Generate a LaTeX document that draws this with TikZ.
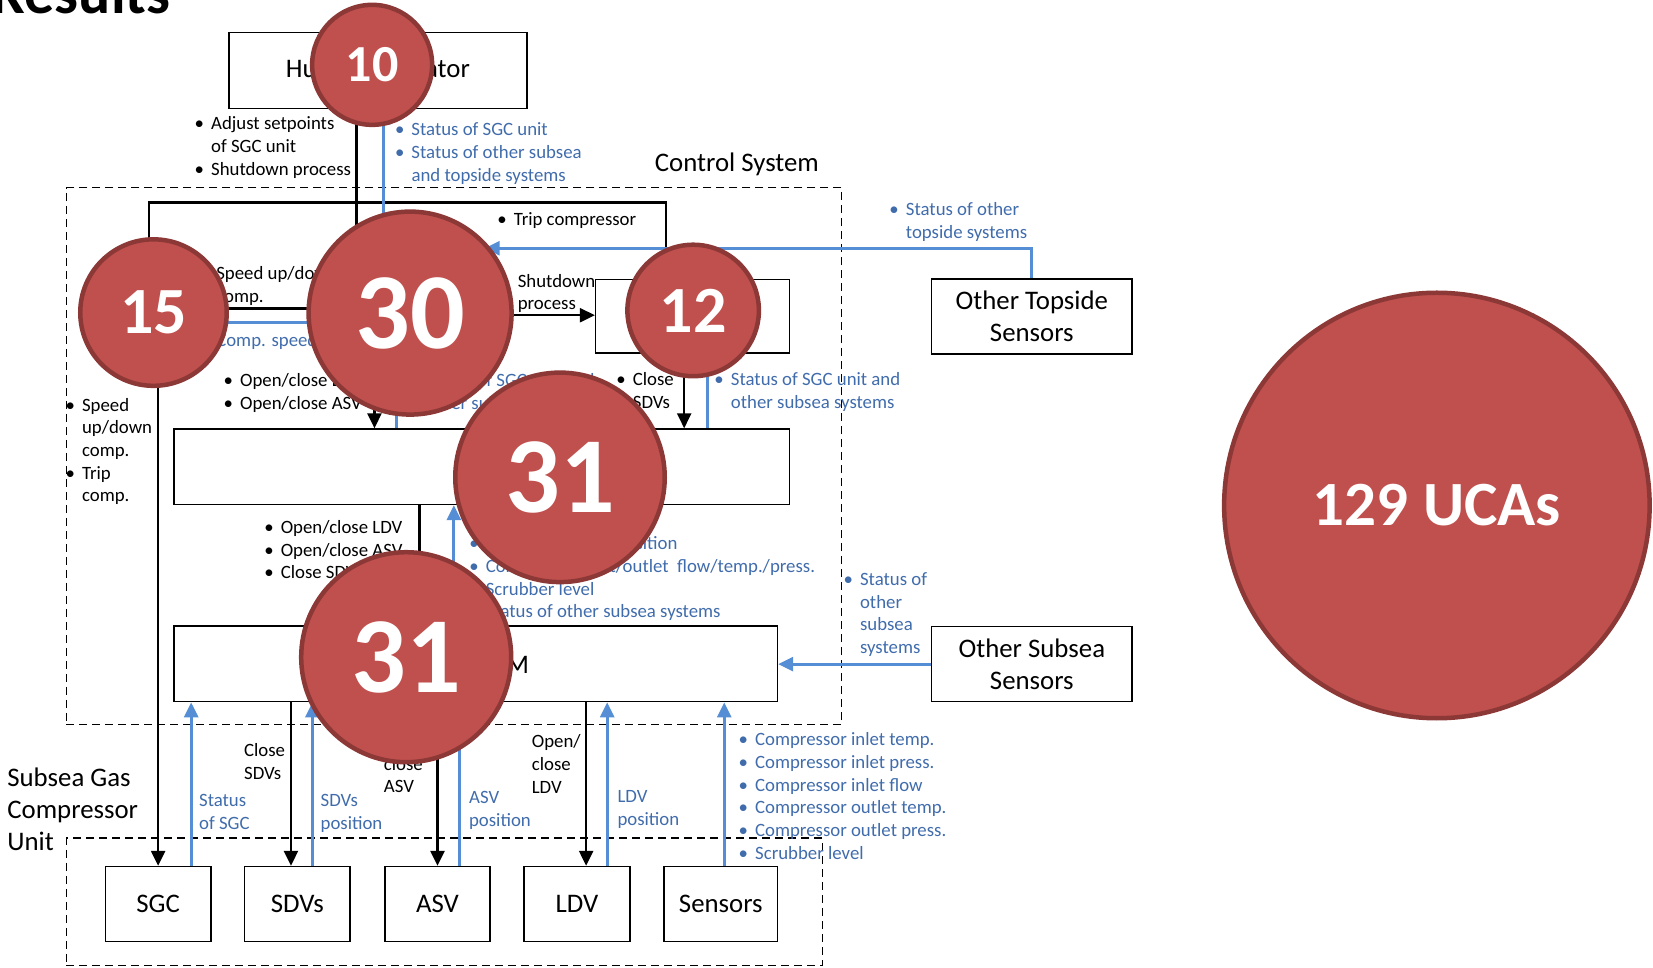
\documentclass[tikz,border=0pt]{standalone}
\usepackage{fontspec}
\setmainfont{Carlito}
\usetikzlibrary{arrows.meta,fit}

\definecolor{ucafill}{RGB}{192,80,77}
\definecolor{ucaedge}{RGB}{140,56,54}
\definecolor{fbline}{RGB}{85,142,213}
\definecolor{fbtext}{RGB}{64,108,172}

% bullet lists and line struts
\newcommand\bu{\makebox[16.5pt][l]{\textbullet}}
\newcommand\hang{\hspace*{16.5pt}}
\newcommand\fl{\rule{0pt}{14pt}}
\newcommand\flb{\rule{0pt}{20pt}}
\newcommand\smallfont{\fontsize{18.8}{22.7}\selectfont}
\newcommand\boxfont{\fontsize{26.8}{31.7}\selectfont}

\begin{document}
\begin{tikzpicture}[x=1.0542pt, y=-1.0542pt,
  box/.style={draw, rectangle, line width=1.5pt, inner sep=0pt, font=\boxfont, align=center},
  sz/.style 2 args={minimum width=#1*1.0542pt, minimum height=#2*1.0542pt},
  region/.style={draw, line width=1.3pt, dash pattern=on 8pt off 5pt, inner sep=0pt},
  cmd/.style={draw, line width=2.4pt, -{Triangle[length=15pt,width=14pt]}},
  fb/.style={draw=fbline, line width=2.8pt, -{Triangle[length=15pt,width=14pt]}},
  lbl/.style={anchor=north west, inner sep=0pt, align=left, font=\smallfont},
  fblbl/.style={lbl, text=fbtext},
  biglbl/.style={anchor=north west, inner sep=0pt, align=left, font=\boxfont},
  uca/.style={circle, fill=ucafill, draw=ucaedge, line width=4.5pt, text=white, inner sep=0pt},
]
\useasboundingbox (0,0) rectangle (1568,917.3);

% heading
\node[anchor=base west, inner sep=0pt, font=\bfseries\fontsize{60}{60}\selectfont] (title) at (-8,13) {Results};

% system boundaries
\node[region, fit={(63,178) (798.5,687.5)}] (ctrl) {};
\node[region, fit={(63,795) (780,916)}] (unit) {};
\node[inner sep=0pt, font=\boxfont] (ctrlname) at (699,155.5) {Control System};
\node[biglbl] (unitname) at (6.8,727.2) {\flb Subsea Gas\\Compressor\\Unit};

% controllers and components
\node[box, sz={283}{72}] (HO) at (358.5,67) {Human Operator};
\node[box, sz={140}{130}] (B30) at (389,297) {};
\node[box, sz={90}{90}] (B15) at (146,297) {};
\node[box, sz={184}{70}] (B12) at (657,300) {};
\node[box, sz={584}{71.5}] (MCS) at (457,442.75) {};
\node[box, sz={572.5}{71.5}] (SCM) at (451.25,629.75) {};
\node[anchor=east, inner sep=0pt, font=\boxfont] (SCMname) at (502,631) {SCM};
\node[box, sz={190.5}{71.5}] (OTS) at (978.75,300.25) {Other Topside\\Sensors};
\node[box, sz={190.5}{71}] (OSS) at (978.75,630) {Other Subsea\\Sensors};
\node[box, sz={100}{71}] (SGC) at (150,857.5) {SGC};
\node[box, sz={100}{71}] (SDVs) at (282,857.5) {SDVs};
\node[box, sz={100}{71}] (ASV) at (415,857.5) {ASV};
\node[box, sz={100.5}{71}] (LDV) at (547.25,857.5) {LDV};
\node[box, sz={107.5}{71}] (SEN) at (683.75,857.5) {Sensors};

% connector positions
\coordinate (xHOd) at (338,0);
\coordinate (xHOu) at (364,0);
\coordinate (xTripR) at (631.5,0);
\coordinate (xTripL) at (141.3,0);
\coordinate (yTrip) at (0,192);
\coordinate (ySpd) at (0,292.5);
\coordinate (ySpdF) at (0,306);
\coordinate (yShut) at (0,299);
\coordinate (yTop) at (0,235.5);
\coordinate (x30a) at (355.2,0);
\coordinate (x30b) at (376.3,0);
\coordinate (x12a) at (649,0);
\coordinate (x12b) at (671,0);
\coordinate (xMa) at (398,0);
\coordinate (xMb) at (430.5,0);
\coordinate (xSGCa) at (150,0);
\coordinate (xSGCb) at (181.3,0);
\coordinate (xSDVa) at (276,0);
\coordinate (xSDVb) at (296.4,0);
\coordinate (xASVa) at (415,0);
\coordinate (xASVb) at (436,0);
\coordinate (xLDVa) at (556,0);
\coordinate (xLDVb) at (576,0);
\coordinate (xSEN) at (687,0);

% control actions
\draw[cmd] (HO.south -| xHOd) -- (B30.north -| xHOd);
\draw[cmd] (B12.north -| xTripR) -- (xTripR |- yTrip) -- (xTripL |- yTrip) -- (B15.north -| xTripL);
\draw[cmd] (B30.west |- ySpd) -- (B15.east |- ySpd);
\draw[cmd] (B30.east |- yShut) -- (B12.west |- yShut);
\draw[cmd] (B30.south -| x30a) -- (MCS.north -| x30a);
\draw[cmd] (B12.south -| x12a) -- (MCS.north -| x12a);
\draw[cmd] (MCS.south -| xMa) -- (SCM.north -| xMa);
\draw[cmd] (B15.south -| xSGCa) -- (SGC.north -| xSGCa);
\draw[cmd] (SCM.south -| xSDVa) -- (SDVs.north -| xSDVa);
\draw[cmd] (SCM.south -| xASVa) -- (ASV.north -| xASVa);
\draw[cmd] (SCM.south -| xLDVa) -- (LDV.north -| xLDVa);

% feedback
\draw[fb] (B30.north -| xHOu) -- (HO.south -| xHOu);
\draw[fb] (OTS.north) -- (OTS.north |- yTop) -- (B30.east |- yTop);
\draw[fb] (B15.east |- ySpdF) -- (B30.west |- ySpdF);
\draw[fb] (MCS.north -| x30b) -- (B30.south -| x30b);
\draw[fb] (MCS.north -| x12b) -- (B12.south -| x12b);
\draw[fb] (SCM.north -| xMb) -- (MCS.south -| xMb);
\draw[fb] (OSS.west) -- (SCM.east |- OSS.west);
\draw[fb] (SGC.north -| xSGCb) -- (SCM.south -| xSGCb);
\draw[fb] (SDVs.north -| xSDVb) -- (SCM.south -| xSDVb);
\draw[fb] (ASV.north -| xASVb) -- (SCM.south -| xASVb);
\draw[fb] (LDV.north -| xLDVb) -- (SCM.south -| xLDVb);
\draw[fb] (SEN.north -| xSEN) -- (SCM.south -| xSEN);

% control action labels
\node[lbl] (tAdj) at (184.5,109.5) {\fl\bu Adjust setpoints\\\hang of SGC unit\\\bu Shutdown process};
\node[lbl] (tTrip) at (471.5,200.5) {\fl\bu Trip compressor};
\node[lbl] (tSpd) at (205,251.5) {\fl Speed up/down\\comp.};
\node[lbl] (tShut) at (491,259) {\fl Shutdown\\process};
\node[lbl] (tLeft) at (62,376.5) {\fl\bu Speed\\\hang up/down\\\hang comp.\\\bu Trip\\\hang comp.};
\node[lbl] (tOpen1) at (212,353) {\fl\bu Open/close LDV\\\bu Open/close ASV};
\node[lbl] (tClose) at (584.5,352.5) {\fl\bu Close\\\hang SDVs};
\node[lbl] (tOpen2) at (250.5,492.5) {\fl\bu Open/close LDV\\\bu Open/close ASV\\\bu Close SDVs};
\node[lbl] (tCSDV) at (231.4,704.5) {\fl Close\\SDVs};
\node[lbl] (tCASV) at (364,695.5) {\fl Open/\\close\\ASV};
\node[lbl] (tCLDV) at (504.3,696) {\fl Open/\\close\\LDV};

% feedback labels
\node[fblbl] (fHO) at (374.5,115.5) {\fl\bu Status of SGC unit\\\bu Status of other subsea\\\hang and topside systems};
\node[fblbl] (fTop) at (843.5,191) {\fl\bu Status of other\\\hang topside systems};
\node[fblbl] (fSpd) at (205,315) {\fl Comp. speed};
\node[fblbl] (fMCS1) at (387.5,353) {\fl\bu Status of SGC unit and\\\hang other subsea systems};
\node[fblbl] (fMCS2) at (677.5,352.5) {\fl\bu Status of SGC unit and\\\hang other subsea systems};
\node[fblbl] (fSCM) at (445,508) {\fl\bu SDVs/ASV/LDV\hspace*{20pt}position\\\bu Compressor inlet/outlet\ \ flow/temp./press.\\\bu Scrubber level\\\bu Status of other subsea systems};
\node[fblbl] (fOSS) at (800,542) {\fl\bu Status of\\\hang other\\\hang subsea\\\hang systems};
\node[fblbl] (fSGC) at (188.7,751.5) {\fl Status\\of SGC};
\node[fblbl] (fSDV) at (304,752) {\fl SDVs\\position};
\node[fblbl] (fASV) at (444.8,749) {\fl ASV\\position};
\node[fblbl] (fLDV) at (585.6,748.2) {\fl LDV\\position};
\node[fblbl] (fSEN) at (700.5,693.8) {\fl\bu Compressor inlet temp.\\\bu Compressor inlet press.\\\bu Compressor inlet flow\\\bu Compressor outlet temp.\\\bu Compressor outlet press.\\\bu Scrubber level};

% unsafe control action counts
\node[uca, minimum size=120pt, font=\bfseries\fontsize{52}{52}\selectfont] (n10) at (353,61.5) {10};
\node[uca, minimum size=146.5pt, font=\bfseries\fontsize{66}{66}\selectfont] (n15) at (145.6,296.5) {15};
\node[uca, minimum size=203pt, font=\bfseries\fontsize{108}{108}\selectfont] (n30) at (389,297) {30};
\node[uca, minimum size=131.5pt, font=\bfseries\fontsize{66}{66}\selectfont] (n12) at (657.5,294.5) {12};
\node[uca, minimum size=209.5pt, font=\bfseries\fontsize{108}{108}\selectfont] (n31a) at (531.2,452.8) {31};
\node[uca, minimum size=210pt, font=\bfseries\fontsize{108}{108}\selectfont] (n31b) at (385.3,623.4) {31};
\node[uca, minimum size=425.5pt, font=\bfseries\fontsize{63}{63}\selectfont] (total) at (1363,479.5) {129 UCAs};
\end{tikzpicture}
\end{document}
